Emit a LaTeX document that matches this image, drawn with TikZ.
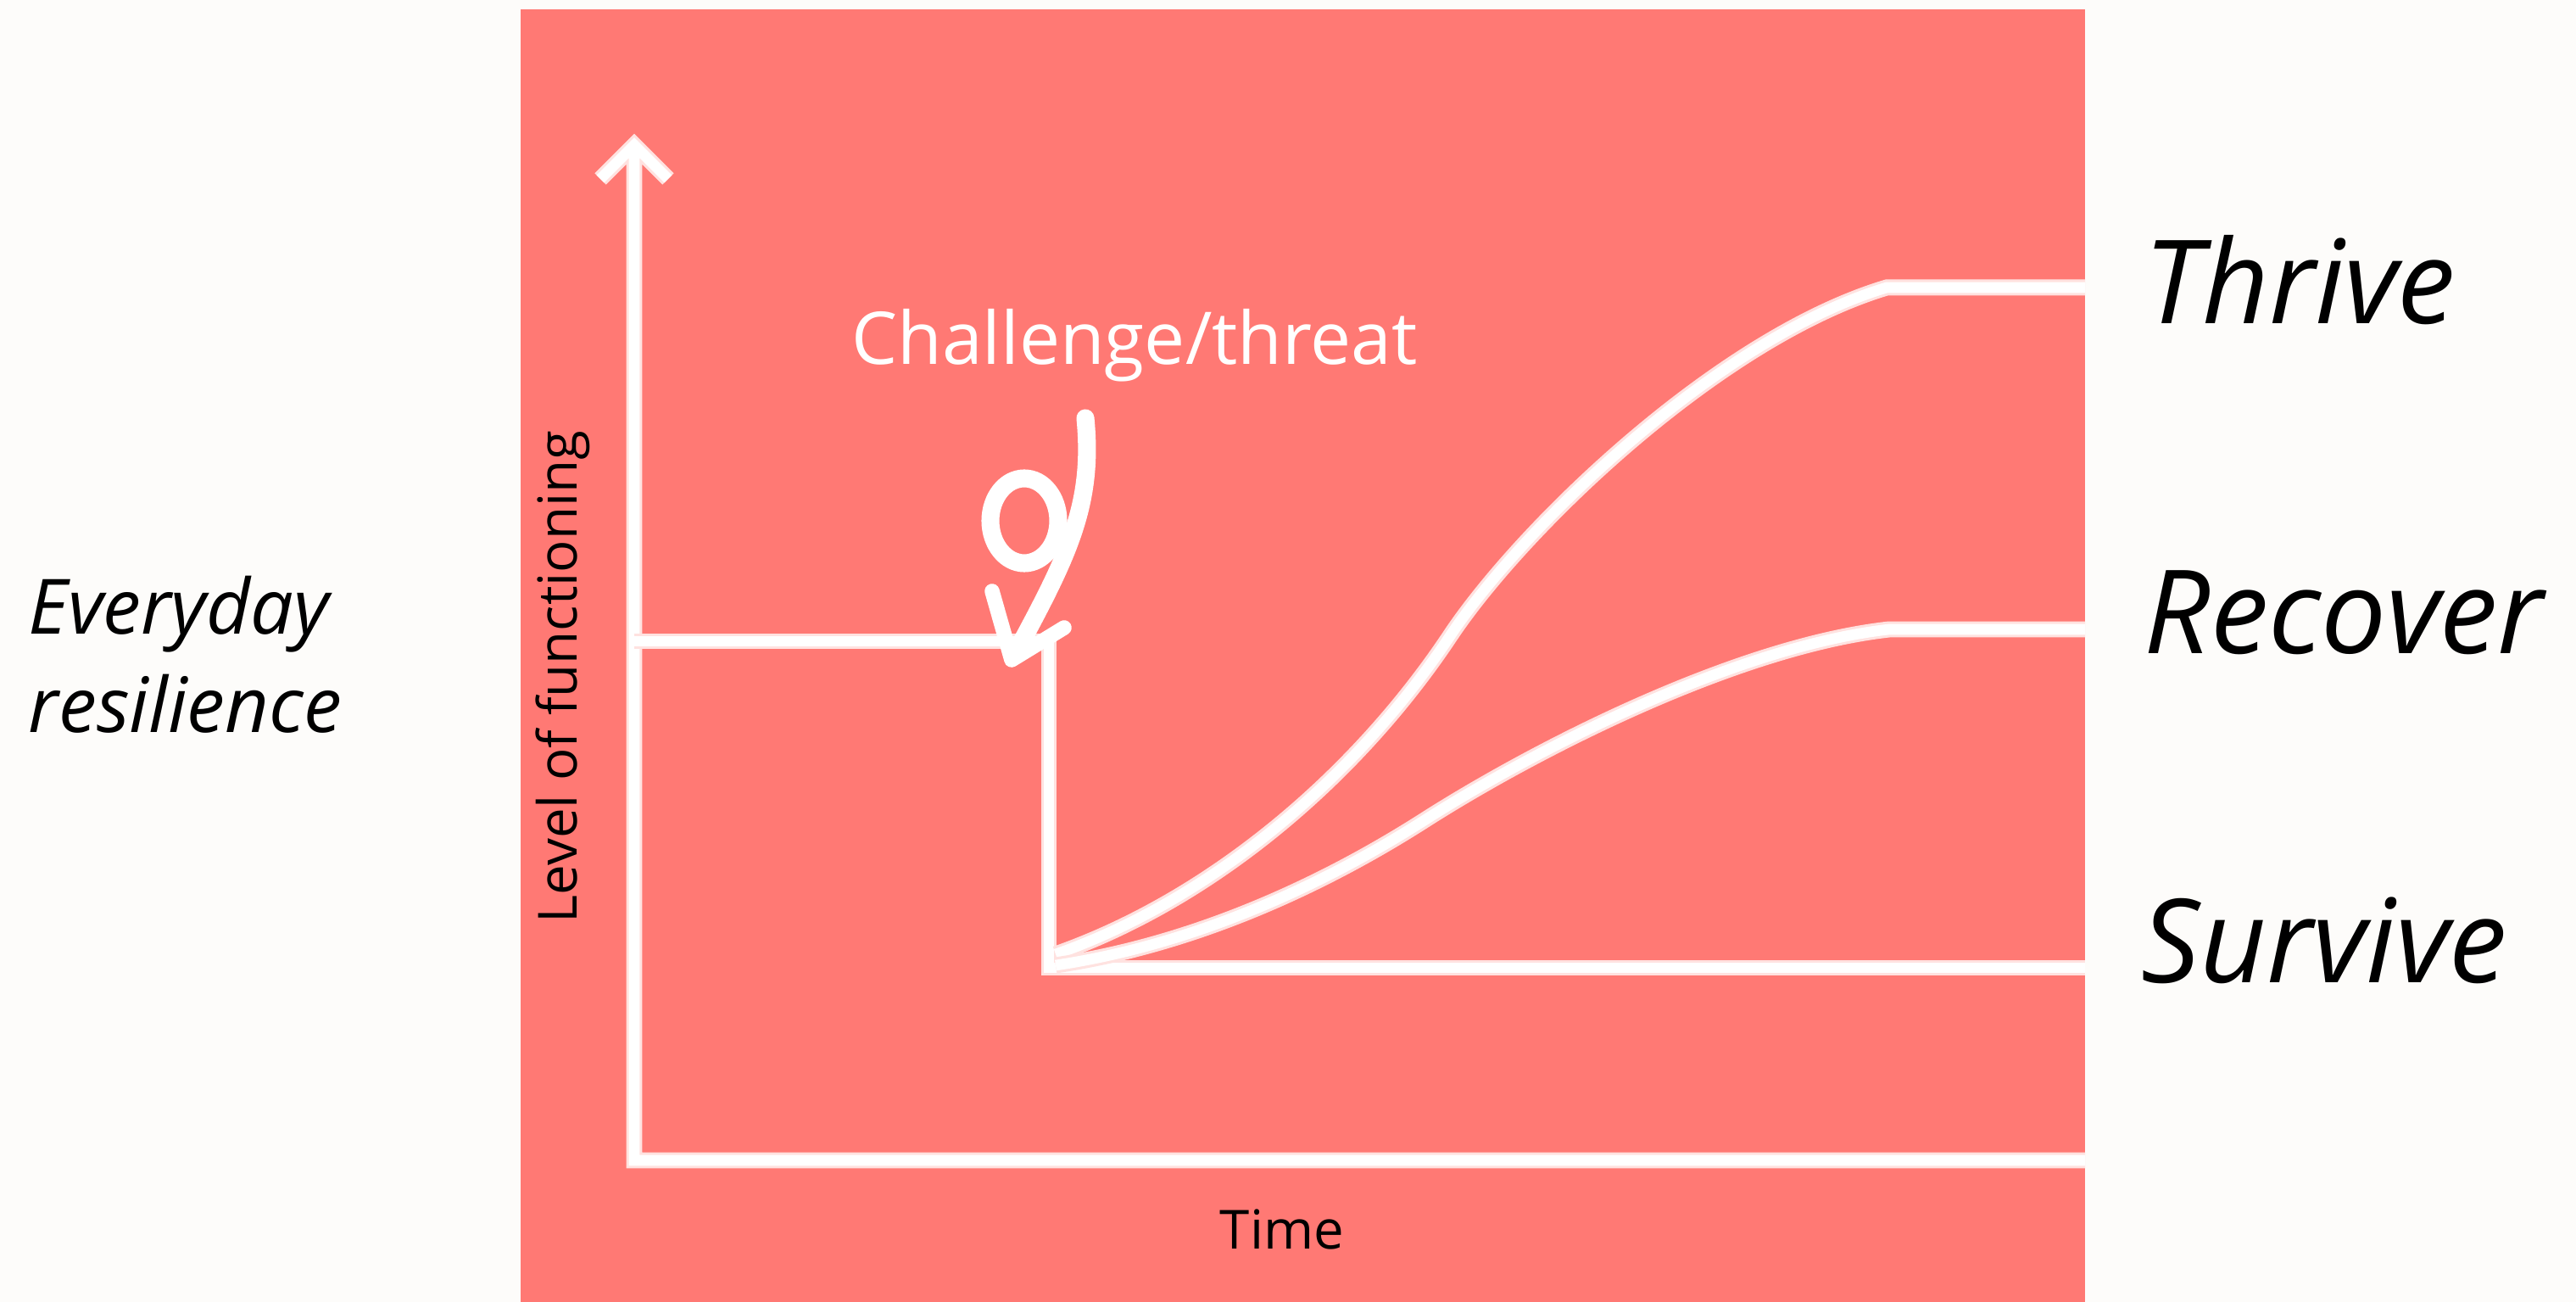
\documentclass[tikz,border=0pt]{standalone}
\usepackage{fontspec}
\setmainfont{Open Sans}
\usetikzlibrary{positioning, calc}

\definecolor{paper}{RGB}{253,252,250}
\definecolor{coral}{RGB}{255,121,116}

\begin{document}
\begin{tikzpicture}[
  line/.style     = {draw=white, line width=3.6pt, line join=miter,
                     preaction={draw=coral!22!white, line width=5.4pt}},
  squiggle/.style = {draw=white, line width=6pt,
                     line cap=round, line join=round},
  axislbl/.style  = {font=\fontsize{18.1}{20}\selectfont,
                     text=black, inner sep=0pt},
  event/.style    = {font=\fontsize{24.4}{28}\selectfont,
                     text=white, inner sep=0pt},
  side/.style     = {font=\fontsize{25.6}{30}\selectfont\itshape,
                     text=black, inner sep=0pt, anchor=base west},
  outcome/.style  = {font=\fontsize{39}{42}\selectfont\itshape,
                     text=black, inner sep=0pt, anchor=base west},
]

%── Фон и панель ─────────────────────────────────────────────────────────
\fill[paper] (0,0) rectangle (30.38,15.35);
\useasboundingbox (0,0) rectangle (30.38,15.35);
\fill[coral] (6.14,0) rectangle (24.59,15.24);

%── Опорные точки ────────────────────────────────────────────────────────
\coordinate (origin)  at (7.48,1.67);
\coordinate (ytop)    at (7.48,13.64);
\coordinate (xend)    at (24.59,1.67);
\coordinate (start)   at (7.48,7.79);
\coordinate (shock)   at (12.37,7.79);
\coordinate (low)     at (12.37,3.94);
\coordinate (lowend)  at (24.59,3.94);
\coordinate (rise)    at (12.45,4.10);
\coordinate (thr)     at (22.25,11.96);
\coordinate (thrend)  at (24.59,11.96);
\coordinate (rec0)    at (12.45,3.97);
\coordinate (rec)     at (22.28,7.93);
\coordinate (recend)  at (24.59,7.93);

%── Оси ──────────────────────────────────────────────────────────────────
\draw[line] ($(ytop)+(-0.40,-0.40)$) -- (ytop) -- ($(ytop)+(0.40,-0.40)$)
            (ytop) -- (origin) -- (xend);

%── Уровень до и после удара ─────────────────────────────────────────────
\draw[line] (start) -- (shock) -- (low) -- (lowend);

%── Кривые восстановления ────────────────────────────────────────────────
\draw[line] (rise) .. controls (14.30,4.75) and (16.00,6.20) .. (17.10,7.85)
                   .. controls (17.93,9.10) and (20.25,11.36) .. (thr)
                   -- (thrend);
\draw[line] (rec0) .. controls (14.00,4.20) and (15.50,4.85) .. (16.80,5.68)
                   .. controls (18.10,6.51) and (20.48,7.73) .. (rec)
                   -- (recend);

%── Стрелка-петля к точке удара ──────────────────────────────────────────
\draw[squiggle] (12.80,10.42) .. controls (12.90,9.40) and (12.60,8.80) .. (11.96,7.62);
\draw[squiggle] (12.08,9.21) ellipse [x radius=0.40, y radius=0.50];
\draw[squiggle, line width=5pt] (11.70,8.38) -- (11.93,7.57) -- (12.55,7.95);

%── Подписи ──────────────────────────────────────────────────────────────
\node[event, anchor=base] (challenge) at (13.38,11.05) {Challenge/threat};
\node[axislbl, rotate=90, anchor=base] (level) at (6.80,7.37) {Level of functioning};
\node[axislbl, anchor=base] (time) at (15.12,0.62) {Time};

\node[side] (everyday)   at (0.33,7.87) {Everyday};
\node[side] (resilience) at (0.33,6.71) {resilience};

\node[outcome] (thrive)  at (25.28,11.53) {Thrive};
\node[outcome] (recover) at (25.28,7.64)  {Recover};
\node[outcome] (survive) at (25.25,3.76)  {Survive};

\end{tikzpicture}
\end{document}
